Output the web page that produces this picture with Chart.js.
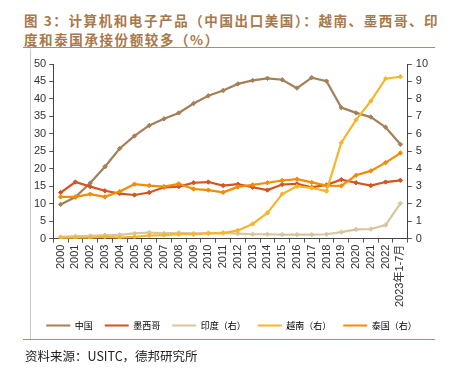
<!DOCTYPE html>
<html>
<head>
<meta charset="utf-8">
<script src="https://cdn.jsdelivr.net/npm/chart.js@4.4.0/dist/chart.umd.min.js"></script>
<style>
  html, body { margin: 0; padding: 0; background: #fff; }
  body { width: 453px; height: 371px; position: relative; overflow: hidden;
         font-family: "Liberation Sans", "Noto Sans CJK SC", sans-serif; }
  .title { position: absolute; left: 24px; top: 11px; width: 425px; font-size: 13.5px;
           line-height: 19px; font-weight: bold; color: #a8784a; letter-spacing: 1.6px;
           white-space: nowrap; font-family: "Noto Sans CJK SC", sans-serif; }
  .rule { position: absolute; left: 23px; width: 412px; height: 0; border-top: 1.5px solid #b88a60; }
  .vline { position: absolute; left: 30px; top: 49px; width: 0; height: 291px; border-left: 1px solid #c8c8c8; }
  .source { position: absolute; left: 25px; top: 346px; font-size: 12.5px; color: #222;
            font-family: "Noto Sans CJK SC", "Liberation Sans", sans-serif; }
  .box { position: absolute; left: 31px; top: 50px; width: 412px; height: 294px; }
</style>
</head>
<body>
<div class="title">图 3：计算机和电子产品（中国出口美国）：越南、墨西哥、印<br>度和泰国承接份额较多（%）</div>
<div class="rule" style="top:47px"></div>
<div class="vline"></div>
<div class="box"><canvas id="chart"></canvas></div>
<div class="rule" style="top:339px"></div>
<div class="source">资料来源：USITC，德邦研究所</div>
<script>
'use strict';

const years = ['2000', '2001', '2002', '2003', '2004', '2005', '2006', '2007', '2008', '2009',
    '2010', '2011', '2012', '2013', '2014', '2015', '2016', '2017', '2018', '2019',
    '2020', '2021', '2022', '2023年1-7月'];

// left axis
const china = [9.8, 11.9, 15.9, 20.6, 25.8, 29.4, 32.4, 34.3, 36.0, 38.7,
    40.9, 42.4, 44.3, 45.3, 45.9, 45.5, 43.1, 46.1, 45.1, 37.5,
    36.0, 34.8, 31.9, 27.0];
const mexico = [13.2, 16.2, 14.9, 13.7, 12.9, 12.5, 13.2, 14.7, 14.9, 16.0,
    16.2, 15.2, 15.6, 14.7, 13.9, 15.5, 15.7, 14.7, 15.4, 16.9,
    16.0, 15.2, 16.2, 16.7];

// right axis
const india = [0.10, 0.14, 0.16, 0.20, 0.22, 0.30, 0.35, 0.30, 0.33, 0.30,
    0.32, 0.33, 0.29, 0.25, 0.25, 0.23, 0.23, 0.23, 0.25, 0.37,
    0.53, 0.55, 0.78, 2.02];
const vietnam = [0.04, 0.05, 0.05, 0.10, 0.06, 0.10, 0.18, 0.20, 0.25, 0.25,
    0.30, 0.32, 0.47, 0.84, 1.47, 2.55, 3.00, 2.90, 2.72, 5.49,
    6.80, 7.88, 9.16, 9.27];
const thailand = [2.39, 2.39, 2.55, 2.39, 2.70, 3.12, 3.04, 2.98, 3.14, 2.84,
    2.78, 2.65, 2.96, 3.08, 3.20, 3.33, 3.41, 3.22, 3.04, 3.02,
    3.63, 3.88, 4.35, 4.90];

const leftTicks = [0, 5, 10, 15, 20, 25, 30, 35, 40, 45, 50];
const rightTicks = [0, 1, 2, 3, 4, 5, 6, 7, 8, 9, 10];

const colors = {
    china: '#a57f57',
    mexico: '#d5531f',
    india: '#d9c59d',
    vietnam: '#f7b52a',
    thailand: '#f28c04'
};

function series(label, data, color, axis, order) {
    return {
        label: label,
        data: data,
        yAxisID: axis,
        borderColor: color,
        backgroundColor: color,
        pointBackgroundColor: color,
        pointBorderColor: color,
        borderWidth: 2.2,
        pointStyle: 'rectRot',
        pointRadius: 2.2,
        pointBorderWidth: 1,
        tension: 0,
        order: order
    };
}

const axisFont = { family: '"Liberation Sans", "Noto Sans CJK SC", sans-serif', size: 11 };

new Chart(document.getElementById('chart'), {
    type: 'line',
    data: {
        labels: years,
        datasets: [
            series('中国', china, colors.china, 'y', 5),
            series('墨西哥', mexico, colors.mexico, 'y', 4),
            series('印度（右）', india, colors.india, 'y1', 3),
            series('越南（右）', vietnam, colors.vietnam, 'y1', 1),
            series('泰国（右）', thailand, colors.thailand, 'y1', 2)
        ]
    },
    options: {
        responsive: true,
        maintainAspectRatio: false,
        animation: false,
        layout: { padding: { left: 0, right: 11, top: 14, bottom: 4 } },
        scales: {
            x: {
                offset: true,
                grid: {
                    display: true,
                    offset: true,
                    drawOnChartArea: false,
                    drawTicks: true,
                    tickLength: 4,
                    color: '#555'
                },
                border: { color: '#444', width: 1 },
                ticks: {
                    color: '#333',
                    font: axisFont,
                    minRotation: 90,
                    maxRotation: 90,
                    autoSkip: false,
                    padding: 2
                }
            },
            y: {
                position: 'left',
                min: 0,
                max: 50,
                afterBuildTicks: function (axis) {
                    axis.ticks = leftTicks.map(v => ({ value: v }));
                },
                grid: {
                    display: true,
                    drawOnChartArea: false,
                    drawTicks: true,
                    tickLength: 4,
                    color: '#555'
                },
                border: { color: '#444', width: 1 },
                ticks: { color: '#333', font: axisFont, padding: 3 }
            },
            y1: {
                position: 'right',
                min: 0,
                max: 10,
                afterBuildTicks: function (axis) {
                    axis.ticks = rightTicks.map(v => ({ value: v }));
                },
                grid: {
                    display: true,
                    drawOnChartArea: false,
                    drawTicks: true,
                    tickLength: 4,
                    color: '#555'
                },
                border: { color: '#444', width: 1 },
                ticks: { color: '#333', font: axisFont, padding: 4 }
            }
        },
        plugins: {
            legend: {
                display: true,
                position: 'bottom',
                labels: {
                    boxWidth: 24,
                    boxHeight: 2,
                    padding: 12,
                    color: '#444',
                    font: { family: '"Noto Sans CJK SC", sans-serif', size: 9 },
                    generateLabels: function (chart) {
                        return chart.data.datasets.map((ds, i) => ({
                            text: ds.label,
                            fillStyle: ds.borderColor,
                            strokeStyle: ds.borderColor,
                            lineWidth: 0,
                            hidden: false,
                            datasetIndex: i
                        }));
                    }
                }
            },
            tooltip: { enabled: false }
        }
    }
});
</script>
</body>
</html>
